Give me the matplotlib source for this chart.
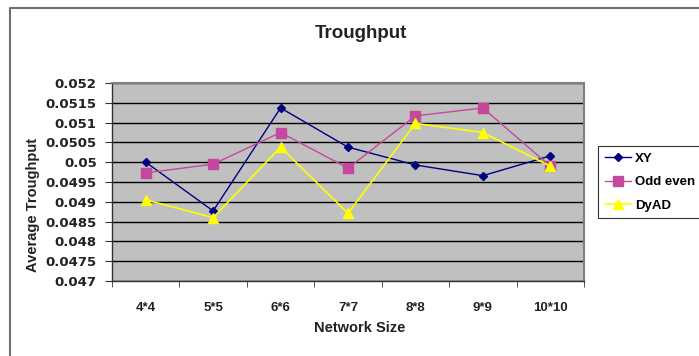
import matplotlib
matplotlib.use("Agg")
import matplotlib.pyplot as plt
from matplotlib.lines import Line2D
import numpy as np

categories = ["4*4", "5*5", "6*6", "7*7", "8*8", "9*9", "10*10"]
xy = [0.0500, 0.04877, 0.05137, 0.05038, 0.04993, 0.04966, 0.05016]
odd_even = [0.04973, 0.04995, 0.05075, 0.04985, 0.05117, 0.05137, 0.0499]
dyad = [0.04905, 0.0486, 0.05038, 0.04871, 0.05098, 0.05075, 0.0499]
yticks = [0.047, 0.0475, 0.048, 0.0485, 0.049, 0.0495, 0.05, 0.0505, 0.051, 0.0515, 0.052]
ytick_labels = ["0.047", "0.0475", "0.048", "0.0485", "0.049", "0.0495", "0.05", "0.0505", "0.051", "0.0515", "0.052"]

plt.rcParams['font.family'] = ['Liberation Sans', 'DejaVu Sans']

fig = plt.figure(figsize=(6.99, 3.56), dpi=100)
W, H = 699, 356
ax = fig.add_axes([112 / W, 1 - 281 / H, (584 - 112) / W, (281 - 83) / H])
ax.set_facecolor("#C0C0C0")

x = np.arange(len(categories))
ax.plot(x, xy, color="#000080", marker="D", markersize=4.5, lw=1.0, label="XY", zorder=3)
ax.plot(x, odd_even, color="#C4489E", marker="s", markersize=6.5, lw=1.0, label="Odd even", zorder=3)
ax.plot(x, dyad, color="#FFFF00", marker="^", markersize=6.5, lw=1.2, label="DyAD", zorder=3)

ax.set_xlim(-0.5, len(categories) - 0.5)
ax.set_ylim(0.047, 0.052)
ax.set_yticks(yticks)
ax.set_yticklabels(ytick_labels, fontsize=9.5, fontweight="bold", family="DejaVu Sans", color="#222222")
ax.set_xticks(x)
ax.set_xticklabels(categories, fontsize=9.5, fontweight="bold", color="#222222")
ax.tick_params(axis="x", which="major", length=0, pad=15)
ax.set_xticks(np.arange(-0.5, len(categories)), minor=True)
ax.tick_params(axis="x", which="minor", length=4, direction="out", color="#333333")
ax.tick_params(axis="y", length=5, direction="out", color="#333333", pad=6)
ax.yaxis.grid(True, color="black", lw=1.0)
ax.set_axisbelow(True)
for s in ["top", "right"]:
    ax.spines[s].set_color("#808080")
    ax.spines[s].set_linewidth(1.5)
for s in ["left", "bottom"]:
    ax.spines[s].set_color("#333333")
    ax.spines[s].set_linewidth(1.0)

fig.text(360 / W, 1 - 328 / H, "Network Size", ha="center", va="center", fontsize=10.5,
         fontweight="bold", color="#222222")
fig.text(33 / W, 1 - 205 / H, "Average Troughput", ha="center", va="center", rotation=90,
         fontsize=10.5, fontweight="bold", color="#222222")
fig.text(361 / W, 1 - 33 / H, "Troughput", ha="center", va="center", fontsize=13.5,
         fontweight="bold", color="#222222")

leg = fig.legend(loc="upper left", bbox_to_anchor=(598 / W, 1 - 146 / H), frameon=True,
                 fancybox=False, edgecolor="black", prop={"weight": "bold", "size": 9.5},
                 handlelength=2.0, borderpad=0.5, labelspacing=0.85, handletextpad=0.3,
                 borderaxespad=0)
leg.get_frame().set_linewidth(0.8)

# outer chart border (top and left only visible)
fig.add_artist(Line2D([10 / W, 10 / W, 1.0], [0.0, 1 - 8 / H, 1 - 8 / H], transform=fig.transFigure,
                      color="#707070", lw=1.5))

fig.savefig("out.png", dpi=100)
